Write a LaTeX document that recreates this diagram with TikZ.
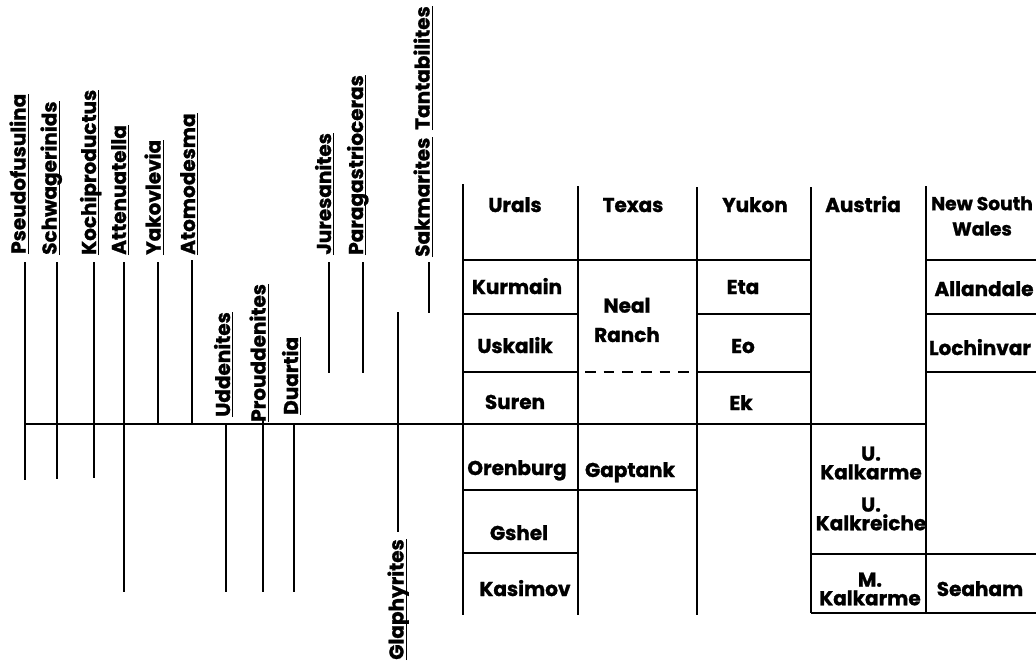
\documentclass[tikz,border=0pt]{standalone}
\usepackage{fontspec}
\setmainfont{Poppins}[BoldFeatures={FakeBold=1.2}]
\begin{document}
\begin{tikzpicture}[x=0.75pt,y=0.75pt,yscale=-1,xscale=1,
    taxon/.style={rotate=90,anchor=base west,inner sep=0pt,font=\fontsize{15}{17}\selectfont\bfseries},
    cell/.style={inner sep=0pt,anchor=base,font=\fontsize{15}{17}\selectfont\bfseries},
    cellm/.style={inner sep=0pt,align=center,font=\fontsize{15}{14}\selectfont\bfseries},
    uline/.style={line width=0.9pt},
    taxline/.style={line width=1.5pt},
    gridline/.style={line width=1.4pt}]
\useasboundingbox (0,0) rectangle (1036,662);

% Taxon labels (upper)
\node[taxon] (pseudo) at (25.5,254) {Pseudofusulina};
\node[taxon] (schwag) at (56.5,255) {Schwagerinids};
\node[taxon] (kochi) at (96,255) {Kochiproductus};
\node[taxon] (atten) at (126,255) {Attenuatella};
\node[taxon] (yakov) at (160.5,255) {Yakovlevia};
\node[taxon] (atomo) at (195,255) {Atomodesma};
\node[taxon] (jures) at (331,255) {Juresanites};
\node[taxon] (parag) at (363,255) {Paragastrioceras};
\node[taxon] (sakm) at (429.5,257) {Sakmarites};
\node[taxon] (tanta) at (429.5,130) {Tantabilites};
% Taxon labels (middle, lower)
\node[taxon] (udden) at (230,417) {Uddenites};
\node[taxon] (proud) at (265.5,422) {Prouddenites};
\node[taxon] (duart) at (298,415) {Duartia};
\node[taxon] (glaph) at (403.5,660) {Glaphyrites};

% Underlines
\foreach \n in {pseudo,schwag,kochi,atten,yakov,atomo,jures,parag,sakm,tanta,udden,proud,duart,glaph}
  \draw[uline] ([xshift=2pt]\n.base west) -- ([xshift=2pt]\n.base east);

%Straight Lines (ranges)
\draw[taxline] (25,262) -- (25,480);
\draw[taxline] (57,262) -- (57,479);
\draw[taxline] (94,262) -- (94,478);
\draw[taxline] (124,262) -- (124,592);
\draw[taxline] (158,262) -- (158,424);
\draw[taxline] (192,260) -- (192,424);
\draw[taxline] (329,262) -- (329,373);
\draw[taxline] (363,262) -- (363,373);
\draw[taxline] (429,262) -- (429,313);
\draw[taxline] (226,424) -- (226,592);
\draw[taxline] (263,418) -- (263,592);
\draw[taxline] (294,424) -- (294,592);
\draw[taxline] (398,312) -- (398,532);

%Straight Lines (time line)
\draw[taxline] (25,424) -- (926,424);

%Table columns
\draw[gridline] (463,184) -- (463,615);
\draw[gridline] (578,186) -- (578,615);
\draw[gridline] (697,187) -- (697,615);
\draw[gridline] (811,187) -- (811,613);
\draw[gridline] (926,186) -- (926,613);

%Table rows
\draw[gridline] (463,260) -- (811,260);
\draw[gridline] (926,260) -- (1036,260);
\draw[gridline] (463,314) -- (578,314);
\draw[gridline] (697,314) -- (811,314);
\draw[gridline] (926,314) -- (1036,314);
\draw[gridline] (463,372) -- (578,372);
\draw[gridline,dash pattern=on 8pt off 6pt] (585,372) -- (697,372);
\draw[gridline] (697,372) -- (811,372);
\draw[gridline] (926,372) -- (1036,372);
\draw[gridline] (463,490) -- (697,490);
\draw[gridline] (463,553) -- (578,553);
\draw[gridline] (811,554) -- (1036,554);
\draw[gridline] (811,613) -- (1036,613);

% Text Node (headers)
\node[cell] (urals) at (515,212) {Urals};
\node[cell] (texas) at (633,212) {Texas};
\node[cell] (yukon) at (755,212) {Yukon};
\node[cell] (austria) at (863,212) {Austria};
\node[cellm,font=\fontsize{14}{14}\selectfont\bfseries] (nsw) at (982,216) {New South\\[5pt]Wales};
% Text Node (stages)
\node[cell] (kurmain) at (517,294) {Kurmain};
\node[cellm] (neal) at (627,320) {Neal\\[8pt]Ranch};
\node[cell] (eta) at (743,294) {Eta};
\node[cell] (allandale) at (984,296) {Allandale};
\node[cell] (uskalik) at (515,353) {Uskalik};
\node[cell] (eo) at (743,353) {Eo};
\node[cell] (lochinvar) at (980,355) {Lochinvar};
\node[cell] (suren) at (515,409) {Suren};
\node[cell] (ek) at (741,410) {Ek};
\node[cell] (orenburg) at (517,475) {Orenburg};
\node[cell] (gaptank) at (630,477) {Gaptank};
\node[cellm] (ukalkarme) at (871,463) {U.\\Kalkarme};
\node[cellm] (ukalkreiche) at (871,514) {U.\\Kalkreiche};
\node[cell] (gshel) at (519,540) {Gshel};
\node[cell] (kasimov) at (525,596) {Kasimov};
\node[cellm] (mkalkarme) at (870,589) {M.\\Kalkarme};
\node[cell] (seaham) at (980,596) {Seaham};

\end{tikzpicture}
\end{document}
